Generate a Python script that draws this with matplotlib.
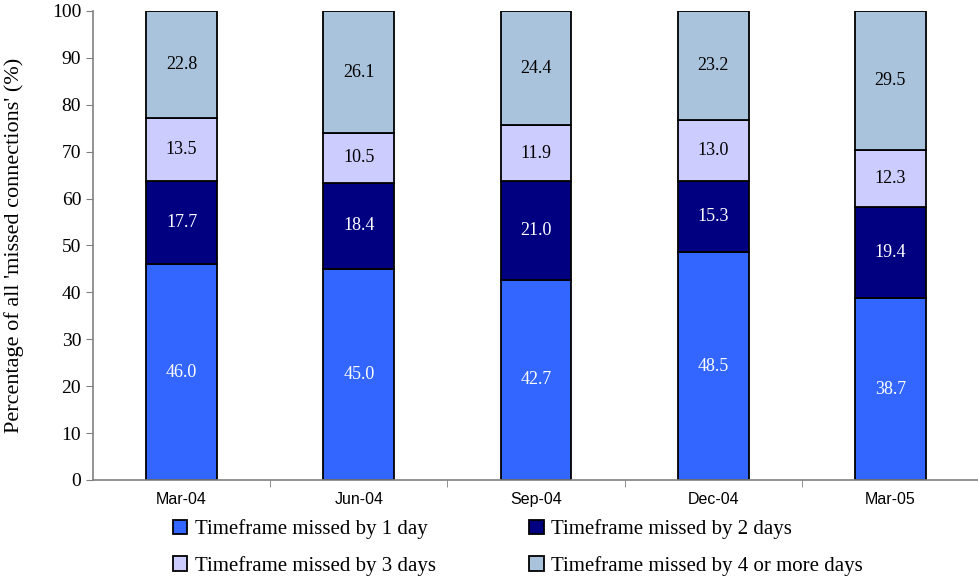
import matplotlib
matplotlib.use('Agg')
import matplotlib.pyplot as plt
import numpy as np

# DATA

categories = ['Mar-04', 'Jun-04', 'Sep-04', 'Dec-04', 'Mar-05']
series_names = ['Timeframe missed by 1 day', 'Timeframe missed by 2 days',
                'Timeframe missed by 3 days', 'Timeframe missed by 4 or more days']
day1 = [46.0, 45.0, 42.7, 48.5, 38.7]
day2 = [17.7, 18.4, 21.0, 15.3, 19.4]
day3 = [13.5, 10.5, 11.9, 13.0, 12.3]
day4 = [22.8, 26.1, 24.4, 23.2, 29.5]

colors = ['#3366FF', '#000080', '#CCCCFF', '#A9C3DC']
text_colors = ['white', 'white', 'black', 'black']

serif = 'Liberation Serif'
sans = 'Liberation Sans'

### = = = = = = = = = = = = = = = = = = = = = = = = = = = = = = = = = = = = = =

fig = plt.figure(figsize=(9.79, 5.76), dpi=100)
ax = fig.add_axes([0.095, 0.1667, 0.905, 0.8143])

x = np.arange(len(categories))
bottom = np.zeros(len(categories))
handles = []
for vals, col, tcol, name in zip([day1, day2, day3, day4], colors, text_colors, series_names):
    vals = np.array(vals)
    bars = ax.bar(x, vals, 0.4, bottom=bottom, color=col, edgecolor='black', linewidth=1.3, label=name)
    handles.append(bars)
    for xi, b, v in zip(x, bottom, vals):
        ax.text(xi, b + v / 2, f'{v:.1f}', ha='center', va='center', color=tcol,
                family=serif, fontsize=13)
    bottom += vals

ax.set_xlim(-0.5, len(categories) - 0.5)
ax.set_ylim(0, 100)
ax.set_yticks(range(0, 101, 10))
ax.set_xticks(x)
ax.set_xticklabels(categories, family=sans, fontsize=11.5)
ax.set_xticks(np.arange(0.5, len(categories) - 1, 1), minor=True)
ax.tick_params(axis='x', which='major', length=0, pad=9)
ax.tick_params(axis='x', which='minor', length=5, direction='out', color='#808080')
ax.tick_params(axis='y', length=5, direction='out', color='#808080', labelsize=14)
for lbl in ax.get_yticklabels():
    lbl.set_family(serif)

for s in ['top', 'right']:
    ax.spines[s].set_visible(False)
for s in ['left', 'bottom']:
    ax.spines[s].set_color('#808080')
    ax.spines[s].set_linewidth(1.2)

ax.set_ylabel("Percentage of all 'missed connections' (%)", family=serif, fontsize=16)
ax.yaxis.set_label_coords(-0.078, 0.5)

# legend fills column-wise, so order handles to read 1,2 / 3,4 across rows
order = [0, 2, 1, 3]
leg = fig.legend(handles=[handles[i] for i in order], labels=[series_names[i] for i in order],
                 loc='center', ncol=2, bbox_to_anchor=(0.529, 0.049), frameon=False,
                 prop={'family': serif, 'size': 15}, handlelength=0.7, handleheight=0.7,
                 handletextpad=0.35, columnspacing=4.5, labelspacing=0.8, borderpad=0)

fig.savefig('out.png', dpi=100)
